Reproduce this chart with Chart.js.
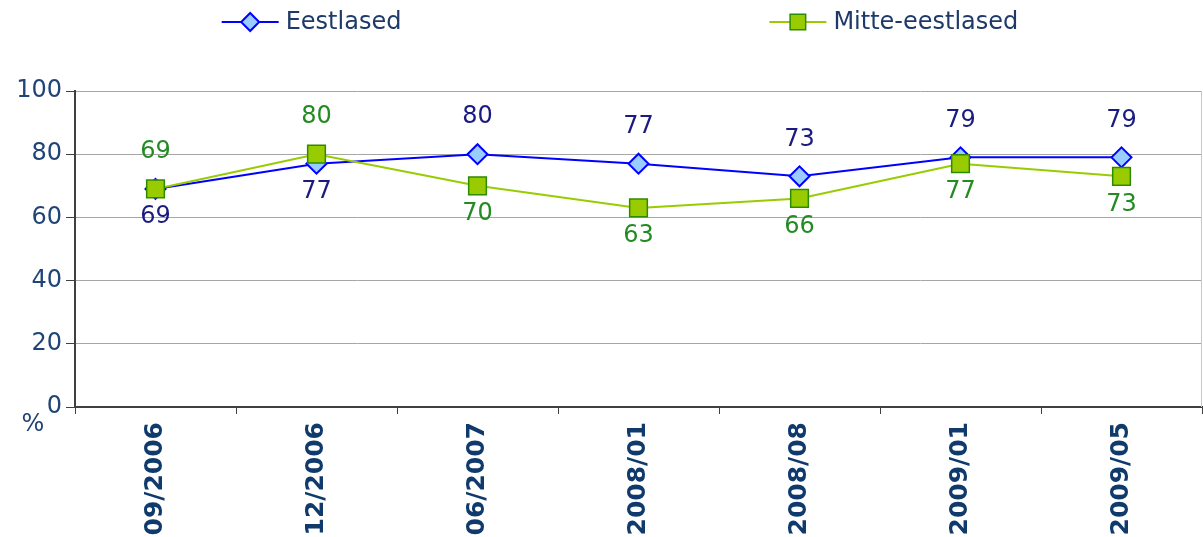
<!DOCTYPE html>
<html>
<head>
<meta charset="utf-8">
<script src="https://cdn.jsdelivr.net/npm/chart.js@4.4.0/dist/chart.umd.min.js"></script>
<style>
  html, body { margin: 0; padding: 0; background: #fff; }
  #wrap { width: 1203px; height: 537px; }
</style>
</head>
<body>
<div id="wrap"><canvas id="SurveyGraph" width="1203" height="537"></canvas></div>
<script>
let Periods = ["09/2006", "12/2006", "06/2007", "2008/01", "2008/08", "2009/01", "2009/05"];
let SeriesNames = ["Eestlased", "Mitte-eestlased"];
let Eestlased = [69, 77, 80, 77, 73, 79, 79];
let MitteEestlased = [69, 80, 70, 63, 66, 77, 73];
// where each value label sits relative to its point
let EestlasedLabelSide = ["below", "below", "above", "above", "above", "above", "above"];
let MitteLabelSide = ["above", "above", "below", "below", "below", "below", "below"];

const font = "DejaVu Sans";
const tickColor = "#1f4477";
const axisColor = "#404040";
const gridColor = "#a6a6a6";

// value labels, legend, "%" and the right frame line
const decorations = {
    id: "decorations",
    afterDatasetsDraw(chart) {
        const ctx = chart.ctx;
        ctx.save();
        ctx.font = "24px '" + font + "'";
        ctx.textAlign = "center";
        ctx.textBaseline = "middle";
        chart.data.datasets.forEach((ds, di) => {
            const meta = chart.getDatasetMeta(di);
            meta.data.forEach((pt, i) => {
                const y = ds.labelSide[i] === "above" ? pt.y - 37 : pt.y + 28;
                ctx.fillStyle = ds.labelColor;
                ctx.fillText(ds.data[i], pt.x, y);
            });
        });
        ctx.restore();
    },
    afterDraw(chart) {
        const ctx = chart.ctx;
        const area = chart.chartArea;
        ctx.save();
        // right frame
        ctx.strokeStyle = "#c8c8c8";
        ctx.lineWidth = 1;
        ctx.beginPath();
        ctx.moveTo(area.right - 0.5, area.top);
        ctx.lineTo(area.right - 0.5, area.bottom);
        ctx.stroke();

        // percent sign under the y axis
        ctx.font = "24px '" + font + "'";
        ctx.fillStyle = tickColor;
        ctx.textAlign = "center";
        ctx.textBaseline = "middle";
        ctx.fillText("%", 33, 425);

        // legend
        ctx.font = "24px '" + font + "'";
        const markerW = 57, gap = 7, itemGap = 368;
        const items = chart.data.datasets.map(ds => ({ds, w: markerW + gap + ctx.measureText(ds.label).width}));
        const total = items.reduce((s, it) => s + it.w, 0) + itemGap * (items.length - 1);
        let x = 620 - total / 2;
        const y = 22;
        items.forEach(it => {
            const ds = it.ds;
            ctx.strokeStyle = ds.borderColor;
            ctx.lineWidth = 2;
            ctx.beginPath();
            ctx.moveTo(x, y);
            ctx.lineTo(x + markerW, y);
            ctx.stroke();
            ctx.fillStyle = ds.pointBackgroundColor;
            ctx.strokeStyle = ds.pointBorderColor;
            ctx.lineWidth = ds.pointBorderWidth;
            ctx.beginPath();
            const cx = x + markerW / 2;
            if (ds.pointStyle === "rectRot") {
                const r = ds.legendRadius;
                ctx.moveTo(cx, y - r); ctx.lineTo(cx + r, y); ctx.lineTo(cx, y + r); ctx.lineTo(cx - r, y); ctx.closePath();
            } else {
                const s = ds.legendRadius * Math.SQRT1_2;
                ctx.rect(cx - s, y - s, 2 * s, 2 * s);
            }
            ctx.fill();
            ctx.stroke();
            ctx.fillStyle = "#1f3a68";
            ctx.textAlign = "left";
            ctx.textBaseline = "middle";
            ctx.fillText(ds.label, x + markerW + gap, y + 1);
            x += it.w + itemGap;
        });
        ctx.restore();
    }
};

new Chart("SurveyGraph", {
    type: "line",
    data: {
        labels: Periods,
        datasets: [{
            label: SeriesNames[0],
            data: Eestlased,
            labelSide: EestlasedLabelSide,
            labelColor: "#1a1a80",
            borderColor: "#0000ff",
            borderWidth: 2,
            pointStyle: "rectRot",
            pointRadius: 10,
            legendRadius: 9,
            pointBackgroundColor: "#99ccff",
            pointBorderColor: "#0000ff",
            pointBorderWidth: 2,
            tension: 0,
            order: 1
        }, {
            label: SeriesNames[1],
            data: MitteEestlased,
            labelSide: MitteLabelSide,
            labelColor: "#228b22",
            borderColor: "#99cc00",
            borderWidth: 2,
            pointStyle: "rect",
            pointRadius: 12.5,
            legendRadius: 11,
            pointBackgroundColor: "#99cc00",
            pointBorderColor: "#2e8b00",
            pointBorderWidth: 1.5,
            tension: 0,
            order: 0
        }]
    },
    options: {
        responsive: false,
        animation: false,
        layout: {autoPadding: false, padding: {top: 91, right: 1, left: 0, bottom: 0}},
        plugins: {
            legend: {display: false},
            tooltip: {enabled: false}
        },
        scales: {
            x: {
                offset: true,
                afterFit: scale => {
                    scale.height = 130;
                    scale.paddingLeft = 0;
                    scale.paddingRight = 0;
                },
                grid: {
                    display: true,
                    offset: true,
                    drawOnChartArea: false,
                    tickLength: 7,
                    tickColor: axisColor
                },
                border: {color: axisColor, width: 2},
                ticks: {
                    autoSkip: false,
                    minRotation: 90,
                    maxRotation: 90,
                    padding: 8,
                    color: "#0f3a6b",
                    font: {family: font, size: 25, weight: "bold"}
                }
            },
            y: {
                min: 0,
                max: 100,
                afterFit: scale => { scale.width = 75; },
                grid: {
                    color: gridColor,
                    tickLength: 9,
                    tickColor: axisColor
                },
                border: {color: axisColor, width: 2},
                ticks: {
                    stepSize: 20,
                    padding: 4,
                    color: tickColor,
                    font: {family: font, size: 24}
                }
            }
        }
    },
    plugins: [decorations]
});
</script>
</body>
</html>
